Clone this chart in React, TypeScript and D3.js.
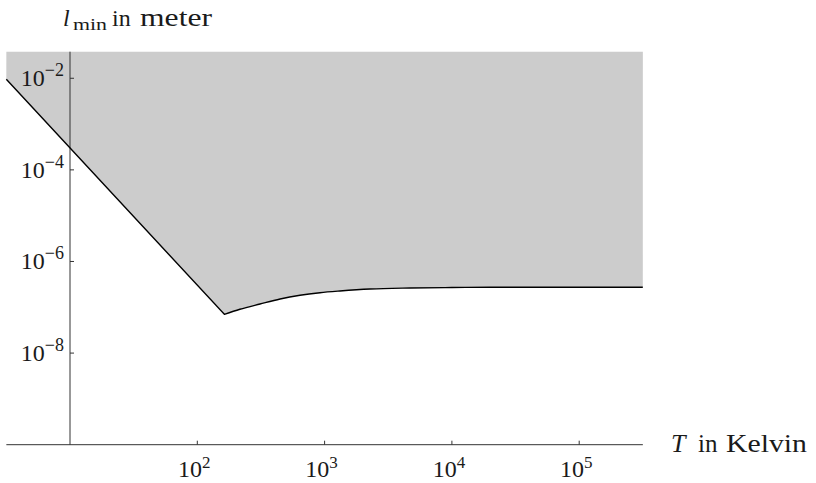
import { useRef, useEffect } from "react";
import * as d3 from "d3";

// temperature (K) and minimal length (m)
const temperatures = [3.16, 163, 216, 311, 447, 641, 920, 1321, 2275, 4690, 10000, 19900, 316000];
const minLengths = [
  9.55e-3, 7.03e-8, 9.04e-8, 1.18e-7, 1.52e-7, 1.83e-7, 2.08e-7, 2.27e-7, 2.51e-7, 2.64e-7,
  2.7e-7, 2.74e-7, 2.74e-7,
];
const kinkIndex = 1; // sharp corner between the two branches

const xTicks = [1e2, 1e3, 1e4, 1e5];
const xTickExps = ["2", "3", "4", "5"];
const yTicks = [1e-2, 1e-4, 1e-6, 1e-8];
const yTickExps = ["−2", "−4", "−6", "−8"];

const WIDTH = 816;
const HEIGHT = 483;
const FONT = "Liberation Serif";

export default function App() {
  const svgRef = useRef<SVGSVGElement | null>(null);

  useEffect(() => {
    if (!svgRef.current) return;
    const svg = d3.select(svgRef.current);
    svg.selectAll("*").remove();

    const x = d3
      .scaleLog()
      .domain([Math.pow(10, 0.5), Math.pow(10, 5.5)])
      .range([6.35, 642.85]);
    const y = d3
      .scaleLog()
      .domain([1e-10, Math.pow(10, -1.42)])
      .range([444.7, 51.7]);

    const pts: [number, number][] = temperatures.map((t, i) => [x(t), y(minLengths[i])]);
    const left = pts.slice(0, kinkIndex + 1);
    const right = pts.slice(kinkIndex);

    const straight = d3.line();
    const smooth = d3.line().curve(d3.curveMonotoneX);
    const leftD = straight(left) || "";
    const rightD = (smooth(right) || "").replace(/^M/, "L");
    const curveD = leftD + rightD;

    const [x0, x1] = x.range();
    const yTop = y.range()[1];

    // shaded (allowed) region above the curve
    svg
      .append("path")
      .attr("d", `M${x0},${yTop}` + curveD.replace(/^M/, "L") + `L${x1},${yTop}Z`)
      .attr("fill", "#cccccc");

    // axes
    const axisColor = "#333";
    svg
      .append("line")
      .attr("x1", x0)
      .attr("x2", x1)
      .attr("y1", y(1e-10))
      .attr("y2", y(1e-10))
      .attr("stroke", axisColor)
      .attr("stroke-width", 1);
    svg
      .append("line")
      .attr("x1", x(10))
      .attr("x2", x(10))
      .attr("y1", y(1e-10))
      .attr("y2", yTop)
      .attr("stroke", axisColor)
      .attr("stroke-width", 1);

    // x ticks
    xTicks.forEach((t, i) => {
      svg
        .append("line")
        .attr("x1", x(t))
        .attr("x2", x(t))
        .attr("y1", y(1e-10))
        .attr("y2", y(1e-10) - 4)
        .attr("stroke", axisColor);
      const txt = svg
        .append("text")
        .attr("x", x(t) - 3)
        .attr("y", 476.5)
        .attr("text-anchor", "middle")
        .style("font-family", FONT)
        .attr("font-size", 24)
        .attr("fill", "#1a1a1a");
      txt.append("tspan").text("10");
      txt.append("tspan").attr("dy", -9).attr("font-size", 17).text(xTickExps[i]);
    });

    // y ticks
    yTicks.forEach((t, i) => {
      svg
        .append("line")
        .attr("x1", x(10))
        .attr("x2", x(10) + 4)
        .attr("y1", y(t))
        .attr("y2", y(t))
        .attr("stroke", axisColor);
      const txt = svg
        .append("text")
        .attr("x", 64)
        .attr("y", y(t) + 8)
        .attr("text-anchor", "end")
        .style("font-family", FONT)
        .attr("font-size", 24)
        .attr("fill", "#1a1a1a");
      txt.append("tspan").text("10");
      txt.append("tspan").attr("dy", -10).attr("font-size", 18).text(yTickExps[i]);
    });

    // the curve itself
    svg
      .append("path")
      .attr("d", curveD)
      .attr("fill", "none")
      .attr("stroke", "#000")
      .attr("stroke-width", 1.4)
      .attr("stroke-linejoin", "miter");

    // axis titles
    const word = (s: string, xs: number, ys: number, size: number, italic = false, len?: number) => {
      const el = svg
        .append("text")
        .attr("x", xs)
        .attr("y", ys)
        .style("font-family", FONT)
        .attr("font-size", size)
        .attr("font-style", italic ? "italic" : "normal")
        .attr("fill", "#1a1a1a")
        .text(s);
      if (len) el.attr("textLength", len).attr("lengthAdjust", "spacingAndGlyphs");
      return el;
    };

    word("l", 63, 25.5, 24, true);
    word("min", 73, 29.5, 17, false, 34);
    word("in", 112, 25.5, 24);
    word("meter", 140, 25.5, 25, false, 72);

    word("T", 671, 451.7, 26, true);
    word("in", 698, 451.7, 25);
    word("Kelvin", 726, 451.7, 26, false, 81);
  }, []);

  return (
    <div style={{ position: "absolute", left: 0, top: 0, width: WIDTH, height: HEIGHT }}>
      <svg ref={svgRef} width={WIDTH} height={HEIGHT} style={{ display: "block", background: "#fff" }} />
    </div>
  );
}
